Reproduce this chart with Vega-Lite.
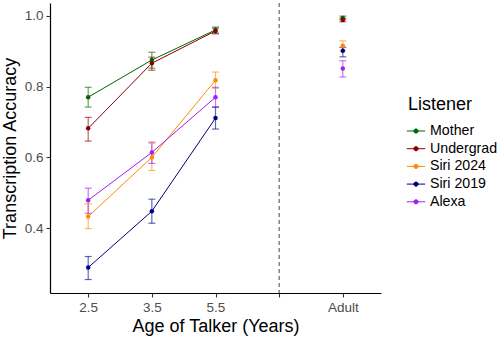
{
  "$schema": "https://vega.github.io/schema/vega-lite/v6.json",
  "width": 331,
  "height": 290,
  "autosize": {"type": "none"},
  "padding": {"left": 50, "top": 3, "right": 119, "bottom": 44},
  "config": {
    "view": {"stroke": null},
    "font": "Liberation Sans",
    "axis": {
      "grid": false,
      "domainColor": "#000000",
      "domainWidth": 1.2,
      "tickColor": "#333333",
      "tickSize": 4,
      "tickWidth": 1.1,
      "labelColor": "#4d4d4d",
      "labelFontSize": 13.5,
      "labelPadding": 3,
      "titleFontSize": 18,
      "titleFontWeight": "normal",
      "titleColor": "#000000"
    }
  },
  "data": {
    "values": [
      {"listener": "Mother", "age": "2.5", "acc": 0.770, "lo": 0.742, "hi": 0.798},
      {"listener": "Mother", "age": "3.5", "acc": 0.875, "lo": 0.852, "hi": 0.897},
      {"listener": "Mother", "age": "5.5", "acc": 0.960, "lo": 0.951, "hi": 0.968},
      {"listener": "Mother", "age": "Adult", "acc": 0.994, "lo": 0.989, "hi": 0.999},
      {"listener": "Undergrad", "age": "2.5", "acc": 0.682, "lo": 0.646, "hi": 0.713},
      {"listener": "Undergrad", "age": "3.5", "acc": 0.866, "lo": 0.846, "hi": 0.883},
      {"listener": "Undergrad", "age": "5.5", "acc": 0.957, "lo": 0.949, "hi": 0.965},
      {"listener": "Undergrad", "age": "Adult", "acc": 0.988, "lo": 0.983, "hi": 0.993},
      {"listener": "Siri 2024", "age": "2.5", "acc": 0.433, "lo": 0.399, "hi": 0.469},
      {"listener": "Siri 2024", "age": "3.5", "acc": 0.600, "lo": 0.563, "hi": 0.640},
      {"listener": "Siri 2024", "age": "5.5", "acc": 0.818, "lo": 0.795, "hi": 0.841},
      {"listener": "Siri 2024", "age": "Adult", "acc": 0.915, "lo": 0.900, "hi": 0.929},
      {"listener": "Siri 2019", "age": "2.5", "acc": 0.289, "lo": 0.255, "hi": 0.320},
      {"listener": "Siri 2019", "age": "3.5", "acc": 0.448, "lo": 0.414, "hi": 0.482},
      {"listener": "Siri 2019", "age": "5.5", "acc": 0.711, "lo": 0.680, "hi": 0.742},
      {"listener": "Siri 2019", "age": "Adult", "acc": 0.901, "lo": 0.884, "hi": 0.911},
      {"listener": "Alexa", "age": "2.5", "acc": 0.479, "lo": 0.442, "hi": 0.513},
      {"listener": "Alexa", "age": "3.5", "acc": 0.614, "lo": 0.583, "hi": 0.643},
      {"listener": "Alexa", "age": "5.5", "acc": 0.770, "lo": 0.742, "hi": 0.798},
      {"listener": "Alexa", "age": "Adult", "acc": 0.851, "lo": 0.827, "hi": 0.873}
    ]
  },
  "encoding": {
    "x": {
      "field": "age",
      "type": "ordinal",
      "scale": {"type": "point", "domain": ["2.5", "3.5", "5.5", "gap", "Adult"], "padding": 0.6},
      "axis": {"title": "Age of Talker (Years)", "labelAngle": 0, "labelExpr": "datum.value == 'gap' ? '' : datum.value", "titlePadding": 4}
    },
    "color": {
      "field": "listener",
      "type": "nominal",
      "scale": {
        "domain": ["Mother", "Undergrad", "Siri 2024", "Siri 2019", "Alexa"],
        "range": ["#006400", "#8B0000", "#FF8C00", "#000080", "#A020F0"]
      },
      "legend": {
        "title": "Listener",
        "orient": "none",
        "legendX": 358,
        "legendY": 93,
        "titleFontSize": 18,
        "titleFontWeight": "normal",
        "titleColor": "#000000",
        "titlePadding": 9,
        "labelFontSize": 14.2,
        "labelColor": "#000000",
        "labelOffset": 6,
        "symbolType": "M-1.3,0H1.3M-0.3,0A0.3,0.3,0,1,1,0.3,0A0.3,0.3,0,1,1,-0.3,0Z",
        "symbolSize": 200,
        "symbolStrokeWidth": 1,
        "rowPadding": 1.7,
        "encode": {
          "symbols": {"update": {"stroke": {"scale": "color", "field": "value"}, "fill": {"scale": "color", "field": "value"}, "opacity": {"value": 1}}}
        }
      }
    }
  },
  "layer": [
    {
      "data": {"values": [{}]},
      "mark": {"type": "rule", "strokeDash": [4, 3], "color": "#444444", "strokeWidth": 1},
      "encoding": {"x": {"datum": "gap"}, "color": {"value": "#444444"}}
    },
    {
      "transform": [{"filter": "datum.age != 'Adult'"}],
      "mark": {"type": "line", "strokeWidth": 1},
      "encoding": {
        "y": {"field": "acc", "type": "quantitative"}
      }
    },
    {
      "mark": {"type": "rule", "opacity": 0.6, "strokeWidth": 1.2},
      "encoding": {
        "y": {"field": "lo", "type": "quantitative"},
        "y2": {"field": "hi"}
      }
    },
    {
      "mark": {"type": "tick", "orient": "horizontal", "opacity": 0.6, "size": 7, "thickness": 1.2},
      "encoding": {
        "y": {"field": "lo", "type": "quantitative"}
      }
    },
    {
      "mark": {"type": "tick", "orient": "horizontal", "opacity": 0.6, "size": 7, "thickness": 1.2},
      "encoding": {
        "y": {"field": "hi", "type": "quantitative"}
      }
    },
    {
      "mark": {"type": "circle", "size": 20, "opacity": 1},
      "encoding": {
        "y": {
          "field": "acc",
          "type": "quantitative",
          "scale": {"domain": [0.217, 1.036], "nice": false, "zero": false},
          "axis": {"title": "Transcription Accuracy", "values": [0.4, 0.6, 0.8, 1.0], "format": ".1f", "titlePadding": 5}
        }
      }
    }
  ]
}
